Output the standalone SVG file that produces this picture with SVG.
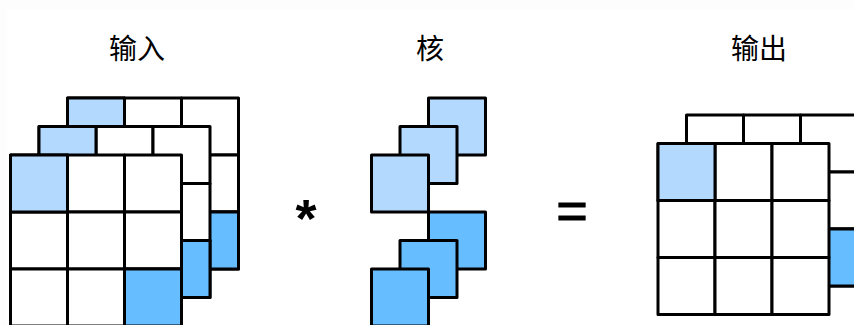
<svg xmlns="http://www.w3.org/2000/svg" width="854" height="325" viewBox="0 0 854 325">
<style>
.c{stroke:#000;stroke-width:3;stroke-linejoin:round;fill:#fff}
.l{fill:#b3d9ff}
.d{fill:#66bdff}
text{font-family:"Noto Sans CJK SC","Liberation Sans",sans-serif;font-size:28px;text-anchor:middle;fill:#000}
.o{font-family:"Liberation Sans",sans-serif;font-weight:bold;font-size:54px}
.e{font-family:"Liberation Sans",sans-serif;font-size:54px;stroke:#000;stroke-width:1}
</style>
<defs>
<g id="blank">
<rect class="c" width="57" height="57"/><rect class="c" x="57" width="57" height="57"/><rect class="c" x="114" width="57" height="57"/>
<rect class="c" y="57" width="57" height="57"/><rect class="c" x="57" y="57" width="57" height="57"/><rect class="c" x="114" y="57" width="57" height="57"/>
<rect class="c" y="114" width="57" height="57"/><rect class="c" x="57" y="114" width="57" height="57"/><rect class="c" x="114" y="114" width="57" height="57"/>
</g>
<rect id="tl" class="c l" width="57" height="57"/>
<rect id="br" class="c d" x="114" y="114" width="57" height="57"/>
</defs>
<rect width="854" height="325" fill="#fdfdfd"/>
<rect x="7" y="9" width="847" height="316" fill="#fff"/>
<g id="input">
<use href="#blank" x="67.5" y="98"/><use href="#tl" x="67.5" y="98"/><use href="#br" x="67.5" y="98"/>
<use href="#blank" x="39" y="126.5"/><use href="#tl" x="39" y="126.5"/><use href="#br" x="39" y="126.5"/>
<use href="#blank" x="10.5" y="155"/><use href="#tl" x="10.5" y="155"/><use href="#br" x="10.5" y="155"/>
<text x="137" y="59">输入</text>
</g>
<g id="operator-star"><text class="o" x="306" y="237">*</text></g>
<g id="kernel">
<rect class="c l" x="428.5" y="98" width="57" height="57"/>
<rect class="c l" x="400" y="126.5" width="57" height="57"/>
<rect class="c l" x="371.5" y="155" width="57" height="57"/>
<rect class="c d" x="428.5" y="212" width="57" height="57"/>
<rect class="c d" x="400" y="240.5" width="57" height="57"/>
<rect class="c d" x="371.5" y="269" width="57" height="57"/>
<text x="430" y="59">核</text>
</g>
<g id="operator-equals"><text class="e" x="572" y="229">=</text></g>
<g id="output">
<use href="#blank" x="686.5" y="115"/><use href="#br" x="686.5" y="115"/>
<use href="#blank" x="658" y="143.5"/><use href="#tl" x="658" y="143.5"/>
<text x="759" y="59">输出</text>
</g>
<g id="connectors"/>
</svg>
